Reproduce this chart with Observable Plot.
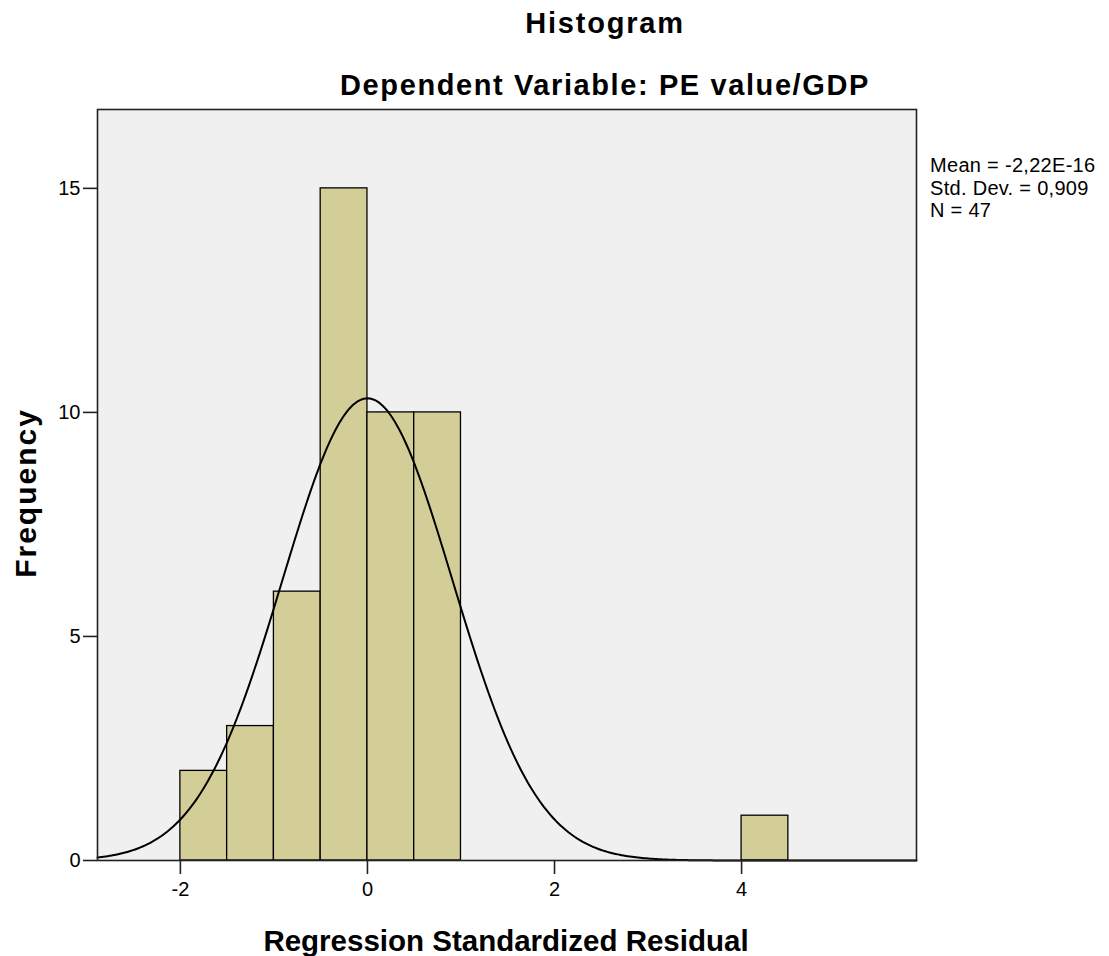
<!DOCTYPE html>
<html>
<head>
<meta charset="utf-8">
<script src="https://cdn.jsdelivr.net/npm/d3@7"></script>
<script src="https://cdn.jsdelivr.net/npm/@observablehq/plot@0.6"></script>
<style>
  html, body { margin: 0; padding: 0; background: #fff; }
  #wrap { position: relative; width: 1109px; height: 956px; font-family: "Liberation Sans", Arial, sans-serif; color: #000; }
  .t { position: absolute; white-space: nowrap; font-weight: bold; line-height: 1; }
  #title { left: 405px; width: 400px; text-align: center; top: 9px; font-size: 29px; letter-spacing: 1.8px; }
  #sub { left: 205px; width: 800px; text-align: center; top: 71px; font-size: 29px; letter-spacing: 1.6px; }
  #xl { left: 106px; width: 800px; text-align: center; top: 926px; font-size: 29.5px; }
  #yl { left: 26px; top: 493px; font-size: 30px; letter-spacing: 2px; transform: translate(-50%, -50%) rotate(-90deg); }
  #stats { position: absolute; left: 930px; top: 154px; font-size: 20px; line-height: 22.5px; letter-spacing: 0.3px; white-space: nowrap; }
  #chart { position: absolute; left: 0; top: 0; }
</style>
</head>
<body>
<div id="wrap">
  <div id="chart"></div>
  <div class="t" id="title">Histogram</div>
  <div class="t" id="sub">Dependent Variable: PE value/GDP</div>
  <div class="t" id="xl">Regression Standardized Residual</div>
  <div class="t" id="yl">Frequency</div>
  <div id="stats">Mean = -2,22E-16<br>Std. Dev. = 0,909<br>N = 47</div>
</div>
<script>
// Histogram bins (lower edge, upper edge) and frequencies
const binStart = [-2.0, -1.5, -1.0, -0.5, 0.0, 0.5, 4.0];
const binEnd   = [-1.5, -1.0, -0.5, 0.0, 0.5, 1.0, 4.5];
const counts   = [2, 3, 6, 15, 10, 10, 1];
// Normal curve parameters as stated in the chart
const mean = -2.22e-16;
const sd = 0.909;
const n = 47;
const binWidth = 0.5;
const xTicks = [-2, 0, 2, 4];
const yTicks = [0, 5, 10, 15];

const bars = binStart.map((s, i) => ({x1: s, x2: binEnd[i], y: counts[i]}));
const xmin = -2.886, xmax = 5.87;
const curve = d3.range(0, 401).map(i => {
  const x = xmin + (xmax - xmin) * i / 400;
  const z = (x - mean) / sd;
  return {x, y: n * binWidth * Math.exp(-0.5 * z * z) / (sd * Math.sqrt(2 * Math.PI))};
});
const fmt = d => d < 0 ? "-" + Math.abs(d) : String(d);

const chart = Plot.plot({
  width: 1109,
  height: 956,
  marginLeft: 97,
  marginRight: 193,
  marginTop: 109,
  marginBottom: 96,
  style: {fontFamily: "'Liberation Sans', Arial, sans-serif", fontSize: "20px", color: "#000", background: "transparent"},
  x: {domain: [xmin, xmax], label: null},
  y: {domain: [0, 16.76], label: null},
  marks: [
    Plot.frame({fill: "#f0f0f0", stroke: "none"}),
    Plot.rectY(bars, {x1: "x1", x2: "x2", y: "y", fill: "#d3ce97", stroke: "#000", strokeWidth: 1.3}),
    Plot.line(curve, {x: "x", y: "y", stroke: "#000", strokeWidth: 2}),
    Plot.frame({stroke: "#222", strokeWidth: 1.6}),
    Plot.axisX({ticks: xTicks, tickSize: 14, tickPadding: 7, tickFormat: fmt, label: null, stroke: "#222", strokeWidth: 1.6}),
    Plot.axisY({ticks: yTicks, tickSize: 14, tickPadding: 3, tickFormat: fmt, label: null, stroke: "#222", strokeWidth: 1.6})
  ]
});
document.getElementById("chart").appendChild(chart);
</script>
</body>
</html>
